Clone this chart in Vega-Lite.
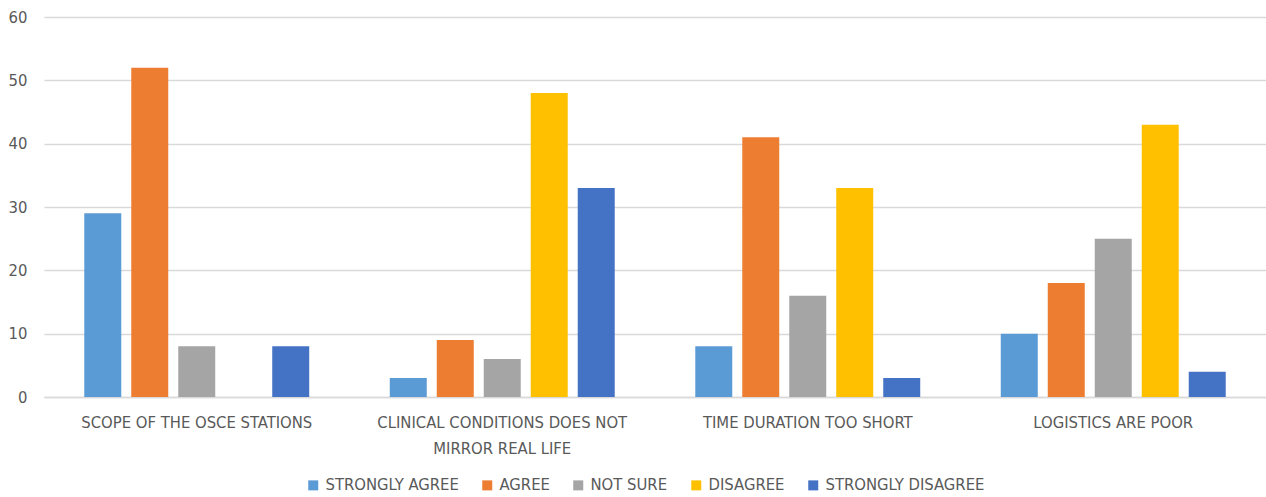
{
  "$schema": "https://vega.github.io/schema/vega-lite/v6.json",
  "width": 1222,
  "height": 380,
  "autosize": {"type": "none"},
  "padding": {"left": 44, "top": 17, "right": 0, "bottom": 100},
  "background": "white",
  "config": {
    "font": "Liberation Sans Narrow, DejaVu Sans Condensed, Lato",
    "view": {"stroke": null}
  },
  "data": {
    "values": [
      {"statement": "SCOPE OF THE OSCE STATIONS", "response": "STRONGLY AGREE", "count": 29},
      {"statement": "SCOPE OF THE OSCE STATIONS", "response": "AGREE", "count": 52},
      {"statement": "SCOPE OF THE OSCE STATIONS", "response": "NOT SURE", "count": 8},
      {"statement": "SCOPE OF THE OSCE STATIONS", "response": "DISAGREE", "count": 0},
      {"statement": "SCOPE OF THE OSCE STATIONS", "response": "STRONGLY DISAGREE", "count": 8},
      {"statement": "CLINICAL CONDITIONS DOES NOT MIRROR REAL LIFE", "response": "STRONGLY AGREE", "count": 3},
      {"statement": "CLINICAL CONDITIONS DOES NOT MIRROR REAL LIFE", "response": "AGREE", "count": 9},
      {"statement": "CLINICAL CONDITIONS DOES NOT MIRROR REAL LIFE", "response": "NOT SURE", "count": 6},
      {"statement": "CLINICAL CONDITIONS DOES NOT MIRROR REAL LIFE", "response": "DISAGREE", "count": 48},
      {"statement": "CLINICAL CONDITIONS DOES NOT MIRROR REAL LIFE", "response": "STRONGLY DISAGREE", "count": 33},
      {"statement": "TIME DURATION TOO SHORT", "response": "STRONGLY AGREE", "count": 8},
      {"statement": "TIME DURATION TOO SHORT", "response": "AGREE", "count": 41},
      {"statement": "TIME DURATION TOO SHORT", "response": "NOT SURE", "count": 16},
      {"statement": "TIME DURATION TOO SHORT", "response": "DISAGREE", "count": 33},
      {"statement": "TIME DURATION TOO SHORT", "response": "STRONGLY DISAGREE", "count": 3},
      {"statement": "LOGISTICS ARE POOR", "response": "STRONGLY AGREE", "count": 10},
      {"statement": "LOGISTICS ARE POOR", "response": "AGREE", "count": 18},
      {"statement": "LOGISTICS ARE POOR", "response": "NOT SURE", "count": 25},
      {"statement": "LOGISTICS ARE POOR", "response": "DISAGREE", "count": 43},
      {"statement": "LOGISTICS ARE POOR", "response": "STRONGLY DISAGREE", "count": 4}
    ]
  },
  "mark": {"type": "bar"},
  "encoding": {
    "x": {
      "field": "statement",
      "type": "nominal",
      "sort": ["SCOPE OF THE OSCE STATIONS", "CLINICAL CONDITIONS DOES NOT MIRROR REAL LIFE", "TIME DURATION TOO SHORT", "LOGISTICS ARE POOR"],
      "scale": {"paddingInner": 0, "paddingOuter": 0},
      "axis": {
        "title": null,
        "labelAngle": 0,
        "labelFontSize": 16.5,
        "labelColor": "#595959",
        "labelPadding": 17,
        "labelLineHeight": 26,
        "labelBaseline": "top",
        "labelLimit": 0,
        "ticks": false,
        "domainColor": "#D9D9D9",
        "domainWidth": 1.5,
        "labelExpr": "datum.value == 'CLINICAL CONDITIONS DOES NOT MIRROR REAL LIFE' ? ['CLINICAL CONDITIONS DOES NOT', 'MIRROR REAL LIFE'] : datum.value"
      }
    },
    "xOffset": {
      "field": "response",
      "type": "nominal",
      "sort": ["STRONGLY AGREE", "AGREE", "NOT SURE", "DISAGREE", "STRONGLY DISAGREE"],
      "scale": {"paddingInner": 0.2128, "paddingOuter": 0.857}
    },
    "y": {
      "field": "count",
      "type": "quantitative",
      "scale": {"domain": [0, 60]},
      "axis": {
        "title": null,
        "values": [0, 10, 20, 30, 40, 50, 60],
        "labelFontSize": 16.5,
        "labelColor": "#595959",
        "labelPadding": 17,
        "ticks": false,
        "domain": false,
        "gridColor": "#D9D9D9",
        "gridWidth": 1.5
      }
    },
    "color": {
      "field": "response",
      "type": "nominal",
      "sort": ["STRONGLY AGREE", "AGREE", "NOT SURE", "DISAGREE", "STRONGLY DISAGREE"],
      "scale": {
        "domain": ["STRONGLY AGREE", "AGREE", "NOT SURE", "DISAGREE", "STRONGLY DISAGREE"],
        "range": ["#5B9BD5", "#ED7D31", "#A5A5A5", "#FFC000", "#4472C4"]
      },
      "legend": {
        "title": null,
        "orient": "none",
        "direction": "horizontal",
        "legendX": 261,
        "legendY": 460,
        "symbolType": "square",
        "symbolSize": 100,
        "symbolStrokeWidth": 0,
        "labelFontSize": 16.5,
        "labelColor": "#595959",
        "labelOffset": 4,
        "labelLimit": 0,
        "columnPadding": 20
      }
    }
  }
}
